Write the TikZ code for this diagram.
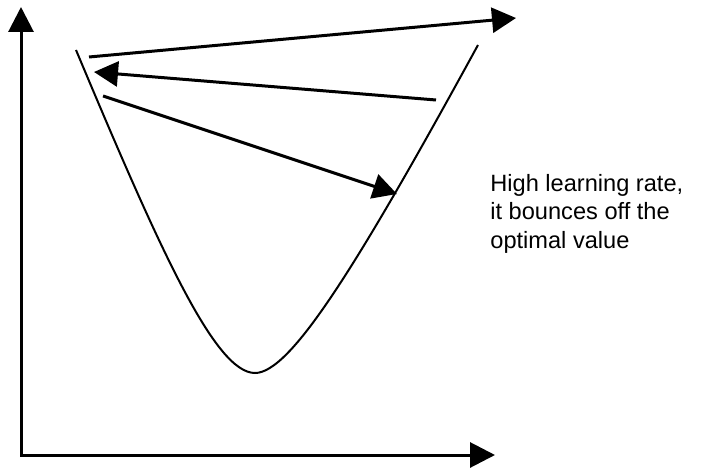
\documentclass[tikz,border=0pt]{standalone}
\usepackage{fontspec}
\setmainfont{Liberation Sans}
\usetikzlibrary{arrows.meta, positioning}
\tikzset{
  axis/.style={line width=1.5pt, {Triangle[length=12.5pt, width=12.5pt]}-{Triangle[length=12.5pt, width=12.5pt]}},
  curve/.style={line width=1pt},
  arrow/.style={-{Triangle[length=12pt, width=12.5pt]}, line width=1.5pt},
  note/.style={align=left, inner sep=0pt, font=\fontsize{11.8}{14.2}\selectfont}
}
\begin{document}
\begin{tikzpicture}[x=0.5pt, y=-0.5pt]
  \useasboundingbox (0,0) rectangle (712,470);
  % Axes
  \coordinate (ytip) at (21,7);
  \coordinate (origin) at (21,455);
  \coordinate (xtip) at (495,455);
  \draw[axis] (ytip) |- (xtip);
  % Loss curve
  \coordinate (lefttop) at (76,50);
  \coordinate (bottom) at (255,373);
  \coordinate (righttop) at (478,45);
  \draw[curve] (lefttop) .. controls (160,250) and (215,373) .. (bottom)
    .. controls (290,373) and (355,270) .. (righttop);
  % Steps
  \coordinate (s1) at (89,57);
  \coordinate (e1) at (516,18);
  \coordinate (s2) at (436,100);
  \coordinate (e2) at (94,72);
  \coordinate (s3) at (103,96);
  \coordinate (e3) at (397,194);
  \draw[arrow] (s1) -- (e1);
  \draw[arrow] (s2) -- (e2);
  \draw[arrow] (s3) -- (e3);
  % Label
  \node[note, anchor=north west] (label) at (490,174) {High learning rate,\\it bounces off the\\optimal value};
\end{tikzpicture}
\end{document}
